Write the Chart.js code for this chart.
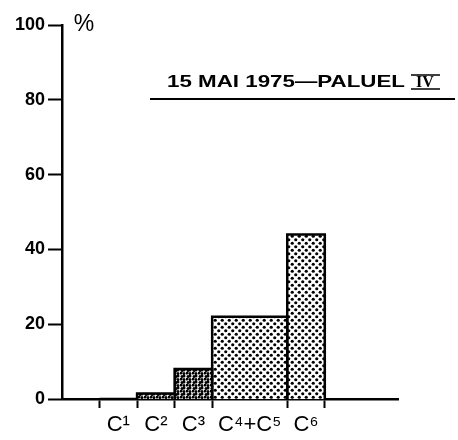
<!DOCTYPE html>
<html>
<head>
<meta charset="utf-8">
<script src="https://cdn.jsdelivr.net/npm/chart.js@4"></script>
<style>
  html, body { margin: 0; padding: 0; background: #fff; }
  #wrap { width: 458px; height: 440px; }
</style>
</head>
<body>
<div id="wrap"><canvas id="copepodChart" width="458" height="440"></canvas></div>
<script>
// copepodite stages (class limits on the x axis) and share of the catch in %
const stages = ['C¹', 'C²', 'C³', 'C⁴+C⁵', 'C⁶'];
const stageFrom = [1, 2, 3, 4, 6];
const stageTo = [2, 3, 4, 6, 7];
const percent = [0, 1.5, 8, 22, 44];
const yTicks = [0, 20, 40, 60, 80, 100];
const title = '15 MAI 1975—PALUEL';
const station = 'IV';

// stipple fills, a regular dot screen and a darker blotchy one
function dotPattern(size, dots, r) {
  const c = document.createElement('canvas');
  c.width = c.height = size;
  const g = c.getContext('2d');
  g.fillStyle = '#fff';
  g.fillRect(0, 0, size, size);
  g.fillStyle = '#000';
  dots.forEach(d => {
    g.beginPath();
    g.arc(d[0], d[1], r, 0, Math.PI * 2);
    g.fill();
  });
  return g.createPattern(c, 'repeat');
}
const lightDots = dotPattern(7, [[1.75, 1.75], [5.25, 5.25]], 1.6);
const darkDots = dotPattern(6, [[1, 1], [4, 4], [4, 1.5], [2, 4.5]], 1.5);

const boundaries = [...new Set(stageFrom.concat(stageTo))];
const mids = stageFrom.map((s, i) => (s + stageTo[i]) / 2);

const datasets = stages.map((s, i) => ({
  label: s,
  data: [
    { x: stageFrom[i], y: 0 },
    { x: stageFrom[i], y: percent[i] },
    { x: stageTo[i], y: percent[i] },
    { x: stageTo[i], y: 0 }
  ],
  borderColor: '#000',
  borderWidth: 2.5,
  backgroundColor: i < 3 ? darkDots : lightDots,
  fill: 'origin',
  pointRadius: 0,
  tension: 0
}));

// heading, its underline and the % sign over the axis
const annotations = {
  id: 'annotations',
  afterDraw(chart) {
    const ctx = chart.ctx;
    ctx.save();
    ctx.fillStyle = '#000';
    ctx.strokeStyle = '#000';
    ctx.font = 'bold 17px "Liberation Sans"';
    ctx.textBaseline = 'alphabetic';
    const w = ctx.measureText(title).width;
    ctx.save();
    ctx.translate(167, 87);
    ctx.scale(238 / w, 1);
    ctx.fillText(title, 0, 0);
    ctx.restore();
    ctx.font = 'bold 16px "Liberation Serif"';
    ctx.textAlign = 'center';
    ctx.fillText(station, 425, 87);
    ctx.lineWidth = 1.5;
    ctx.beginPath();
    ctx.moveTo(411, 75); ctx.lineTo(440, 75);
    ctx.moveTo(411, 89); ctx.lineTo(440, 89);
    ctx.stroke();
    ctx.lineWidth = 2;
    ctx.beginPath();
    ctx.moveTo(150, 99); ctx.lineTo(455, 99);
    ctx.stroke();
    ctx.font = '23px "Liberation Sans"';
    ctx.fillText('%', 84, 31);
    ctx.restore();
  }
};

new Chart(document.getElementById('copepodChart').getContext('2d'), {
  type: 'line',
  data: { datasets },
  options: {
    responsive: false,
    animation: false,
    layout: { padding: { left: 0, top: 25, right: 60, bottom: 0 } },
    plugins: { legend: { display: false }, tooltip: { enabled: false } },
    scales: {
      x: {
        type: 'linear',
        min: 0,
        max: 8.95,
        afterFit: scale => { scale.height = 41; },
        afterBuildTicks: scale => {
          scale.ticks = boundaries.concat(mids).sort((a, b) => a - b).map(v => ({ value: v }));
        },
        border: { display: true, color: '#000', width: 2.5 },
        grid: {
          drawOnChartArea: false,
          tickLength: 9,
          tickWidth: 2,
          color: c => (c.tick && boundaries.includes(c.tick.value) ? '#000' : 'rgba(0,0,0,0)')
        },
        ticks: {
          autoSkip: false,
          maxRotation: 0,
          padding: 4,
          color: '#000',
          font: { family: '"Liberation Sans"', size: 22 },
          callback: v => {
            const k = mids.indexOf(v);
            return k >= 0 ? stages[k] : '';
          }
        }
      },
      y: {
        min: 0,
        max: 100,
        afterFit: scale => { scale.width = 62; },
        afterBuildTicks: scale => { scale.ticks = yTicks.map(v => ({ value: v })); },
        border: { display: true, color: '#000', width: 2.5 },
        grid: { drawOnChartArea: false, tickLength: 14, tickWidth: 2, color: '#000' },
        ticks: {
          padding: 3,
          color: '#000',
          font: { family: '"Liberation Sans"', size: 18, weight: 'bold' }
        }
      }
    }
  },
  plugins: [annotations]
});
</script>
</body>
</html>
